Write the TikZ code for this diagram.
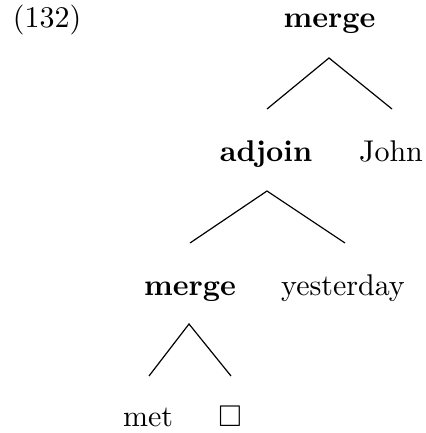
\documentclass[tikz,border=0pt]{standalone}
\usepackage{amssymb}
\begin{document}
\begin{tikzpicture}[x=0.33333pt,y=-0.33333pt,
  lbl/.style={inner sep=0pt,anchor=base},
  op/.style={lbl,font=\bfseries},
  branch/.style={line width=0.4pt}]
\useasboundingbox (0,0) rectangle (425,433);
\node[lbl] (ex) at (47,28) {(132)};
\node[op] (m1) at (329.5,28) {merge};
\node[op] (adj) at (266,161.5) {adjoin};
\node[lbl] (john) at (391,161.5) {John};
\node[op] (m2) at (190,295) {merge};
\node[lbl] (yest) at (343,295) {yesterday};
\node[lbl] (met) at (148,426) {met};
\node[lbl] (gap) at (230,426) {$\square$};
\coordinate (a1) at (329,58);
\coordinate (l1) at (267,109);
\coordinate (r1) at (392,109);
\coordinate (a2) at (267,191);
\coordinate (l2) at (190,243);
\coordinate (r2) at (345,243);
\coordinate (a3) at (189,324);
\coordinate (l3) at (149,376);
\coordinate (r3) at (231,376);
\draw[branch] (l1) -- (a1) -- (r1);
\draw[branch] (l2) -- (a2) -- (r2);
\draw[branch] (l3) -- (a3) -- (r3);
\end{tikzpicture}
\end{document}
